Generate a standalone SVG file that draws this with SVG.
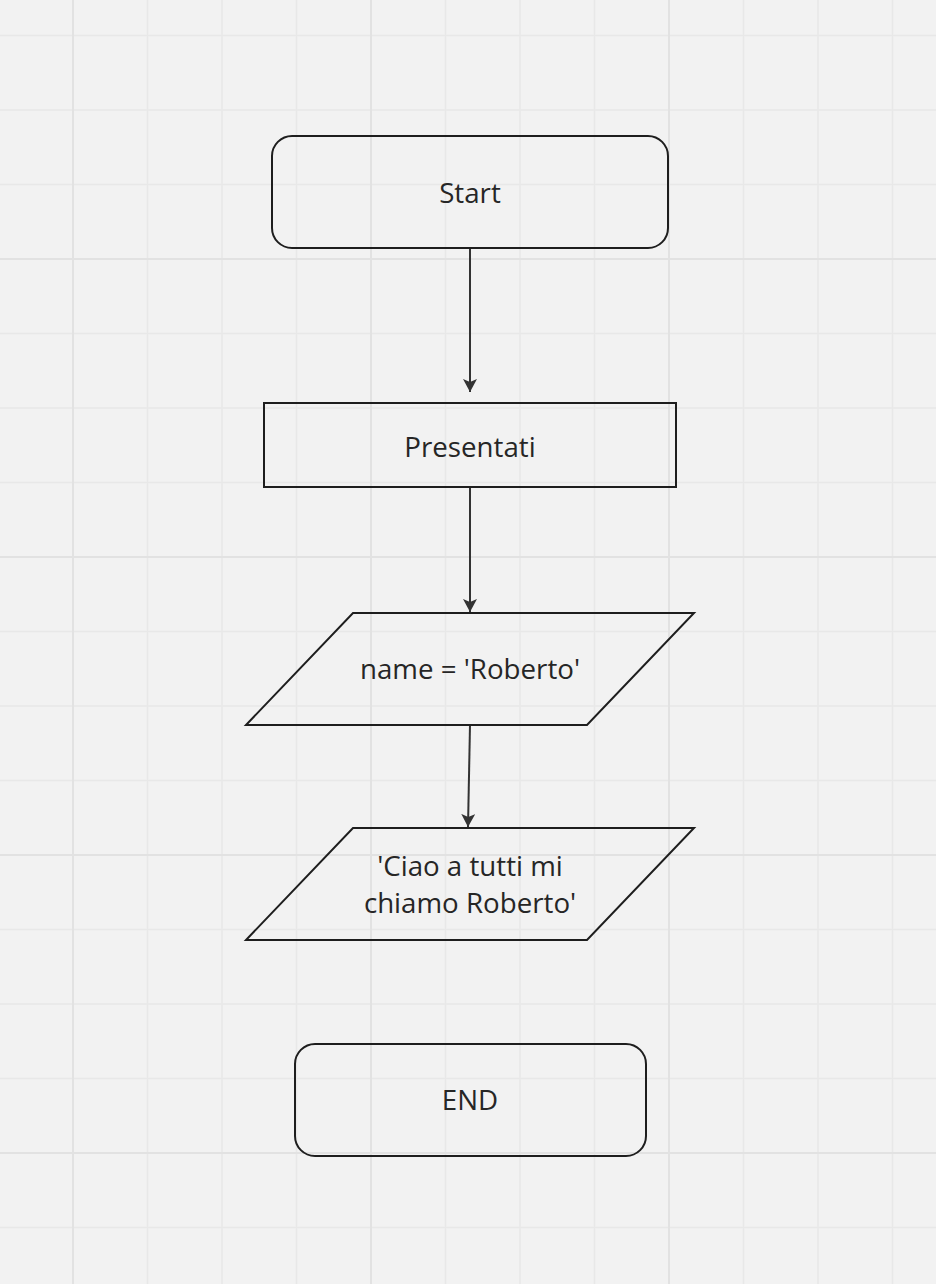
<svg xmlns="http://www.w3.org/2000/svg" width="936" height="1284" viewBox="0 0 936 1284">
  <style>
    .minor { stroke: #e8e8e8; stroke-width: 1.5; fill: none; }
    .major { stroke: #e2e2e2; stroke-width: 2; fill: none; }
    .shape { fill: none; stroke: #1e1e1e; stroke-width: 2; }
    .label { font-family: "Open Sans", "Noto Sans", sans-serif; font-size: 27.7px; fill: #262626; text-anchor: middle; }
    .conn { stroke: #333333; stroke-width: 2; fill: none; marker-end: url(#arrow); }
  </style>
  <defs>
    <marker id="arrow" markerUnits="userSpaceOnUse" markerWidth="13" markerHeight="14" viewBox="0 0 13 14" refX="13" refY="7" orient="auto">
      <path d="M0,0 L13,7 L0,14 L3,7 Z" fill="#333333"/>
    </marker>
  </defs>
  <rect x="0" y="0" width="936" height="1284" fill="#f2f2f2"/>
  <g id="grid">
    <path class="minor" d="M147.5,0V1284 M222,0V1284 M296.5,0V1284 M445.5,0V1284 M520,0V1284 M594.5,0V1284 M743.5,0V1284 M818,0V1284 M892.5,0V1284 M0,35.5H936 M0,110H936 M0,184.5H936 M0,333.5H936 M0,408H936 M0,482.5H936 M0,631.5H936 M0,706H936 M0,780.5H936 M0,929.5H936 M0,1004H936 M0,1078.5H936 M0,1227.5H936"/>
    <path class="major" d="M73,0V1284 M371,0V1284 M669,0V1284 M0,259H936 M0,557H936 M0,855H936 M0,1153H936"/>
  </g>
  <g id="connectors">
    <path class="conn" d="M470,248 L470,392"/>
    <path class="conn" d="M470,487 L470,612"/>
    <path class="conn" d="M470,725 L468,827"/>
  </g>
  <g id="start">
    <rect class="shape" x="272" y="136" width="396" height="112" rx="20" ry="20"/>
    <text class="label" x="470" y="203">Start</text>
  </g>
  <g id="presentati">
    <rect class="shape" x="264" y="403" width="412" height="84"/>
    <text class="label" x="470" y="457">Presentati</text>
  </g>
  <g id="name">
    <polygon class="shape" points="353,613 694,613 587,725 246,725"/>
    <text class="label" x="470" y="679">name = 'Roberto'</text>
  </g>
  <g id="ciao">
    <polygon class="shape" points="353,828 694,828 587,940 246,940"/>
    <text class="label" x="470" y="876">'Ciao a tutti mi</text>
    <text class="label" x="470" y="913">chiamo Roberto'</text>
  </g>
  <g id="end">
    <rect class="shape" x="295" y="1044" width="351" height="112" rx="20" ry="20"/>
    <text class="label" x="470" y="1110">END</text>
  </g>
</svg>
